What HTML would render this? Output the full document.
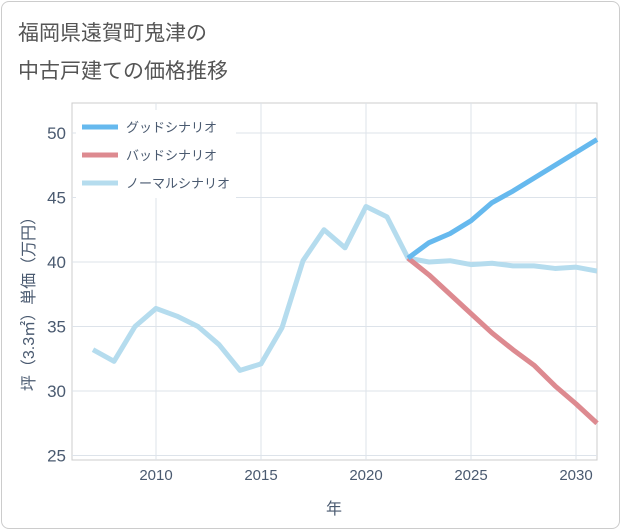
<!DOCTYPE html>
<html><head><meta charset="utf-8"><style>
body{margin:0;background:#fff;font-family:"Liberation Sans","Noto Sans CJK JP",sans-serif;}
#card{position:absolute;left:1px;top:1px;width:617px;height:526px;border:1px solid #ccc;border-radius:8px;background:#fff;}
</style></head><body>
<div id="card"></div>
<svg id="c" width="621" height="530" style="position:absolute;left:0;top:0">
<text x="18" y="40" font-size="21" fill="#555">福岡県遠賀町鬼津の</text>
<text x="18" y="78" font-size="21" fill="#555">中古戸建ての価格推移</text>
</svg>
<script>
const years=[2007,2008,2009,2010,2011,2012,2013,2014,2015,2016,2017,2018,2019,2020,2021,2022,2023,2024,2025,2026,2027,2028,2029,2030,2031];
const normal=[33.2,32.3,35,36.4,35.8,35,33.6,31.6,32.1,34.9,40.1,42.5,41.1,44.3,43.5,40.3,40.0,40.1,39.8,39.9,39.7,39.7,39.5,39.6,39.3];
const fYears=[2022,2023,2024,2025,2026,2027,2028,2029,2030,2031];
const good=[40.3,41.5,42.2,43.2,44.6,45.5,46.5,47.5,48.5,49.5];
const bad=[40.3,39.0,37.5,36.0,34.5,33.2,32.0,30.4,29.0,27.5];
const xTicks=[2010,2015,2020,2025,2030];
const yTicks=[25,30,35,40,45,50];
const L=72,R=597,T=103,B=460;
const x=v=>156+(v-2010)*21;
const y=v=>133+(50-v)*12.9;
const svg=document.getElementById('c');const NS='http://www.w3.org/2000/svg';
function mk(t,a,p){const e=document.createElementNS(NS,t);for(const k in a)e.setAttribute(k,a[k]);(p||svg).appendChild(e);return e;}
const bg=mk('rect',{x:L,y:T,width:R-L,height:B-T,fill:'#fff',stroke:'#ccc'});


xTicks.forEach(v=>{const g=mk('line',{x1:x(v),x2:x(v),y1:T,y2:B,stroke:'#dde3ea'});


const t=mk('text',{x:x(v),y:B+20,'font-size':15,fill:'#4a5a70','text-anchor':'middle'});t.textContent=v;

});
yTicks.forEach(v=>{const g=mk('line',{x1:L,x2:R,y1:y(v),y2:y(v),stroke:'#dde3ea'});


const t=mk('text',{x:L-6,y:y(v)+6,'font-size':17,fill:'#4a5a70','text-anchor':'end'});t.textContent=v;

});
const xt=mk('text',{x:334,y:514,'font-size':16,fill:'#4a5a70','text-anchor':'middle'});xt.textContent='年';


const yt=mk('text',{x:0,y:0,'font-size':16,fill:'#4a5a70','text-anchor':'middle',transform:'translate(34,300) rotate(-90)'});yt.textContent='坪（3.3㎡）単価（万円）';


function line(xs,vs,c,n){const p=mk('polyline',{points:xs.map((v,i)=>x(v)+','+y(vs[i])).join(' '),fill:'none',stroke:c,'stroke-width':5,'stroke-linejoin':'round'});

}
line(years,normal,'#b5dcee','normal-series-line');
line(fYears,bad,'#dd8a90','bad-series-line');
line(fYears,good,'#66b9ee','good-series-line');
const lg=mk('rect',{x:76,y:110,width:160,height:88,fill:'#fff'});


[['グッドシナリオ','#66b9ee'],['バッドシナリオ','#dd8a90'],['ノーマルシナリオ','#b5dcee']].forEach((d,i)=>{const yy=127+i*28;
const l=mk('line',{x1:82,x2:118,y1:yy,y2:yy,stroke:d[1],'stroke-width':5});


const t=mk('text',{x:126,y:yy+5,'font-size':13,fill:'#4a5a70'});t.textContent=d[0];

});
</script>
</body></html>
